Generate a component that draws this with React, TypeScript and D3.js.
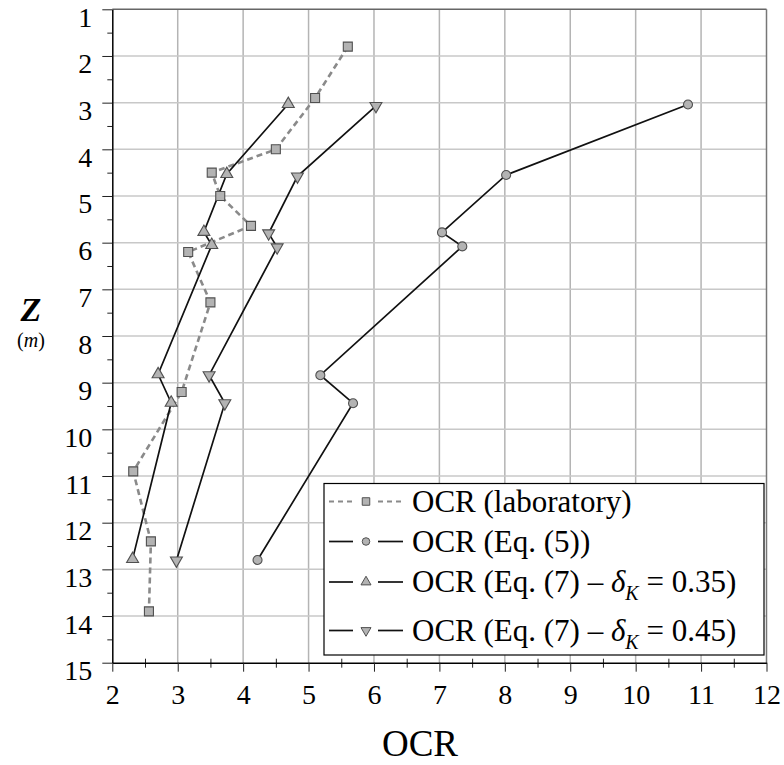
import React, { useEffect, useRef } from 'react';
import * as d3 from 'd3';

// values
const labOCR = [5.6, 5.1, 4.5, 3.52, 3.65, 4.12, 3.16, 3.5, 3.06, 2.32, 2.59, 2.56];
const labZ = [1.8, 2.9, 4.0, 4.5, 5.0, 5.64, 6.2, 7.28, 9.2, 10.9, 12.4, 13.9];

const eq5OCR = [10.8, 8.02, 7.04, 7.35, 5.18, 5.68, 4.22];
const eq5Z = [3.04, 4.55, 5.78, 6.08, 8.84, 9.44, 12.8];

const eq7aOCR = [4.69, 3.75, 3.4, 3.52, 2.7, 2.9, 2.31];
const eq7aZ = [3.03, 4.53, 5.77, 6.05, 8.82, 9.43, 12.78];

const eq7bOCR = [6.03, 4.83, 4.39, 4.52, 3.48, 3.72, 2.98];
const eq7bZ = [3.07, 4.58, 5.8, 6.1, 8.84, 9.44, 12.81];

const xTicks = [2, 3, 4, 5, 6, 7, 8, 9, 10, 11, 12];
const yTicks = [1, 2, 3, 4, 5, 6, 7, 8, 9, 10, 11, 12, 13, 14, 15];

const FONT = '"Liberation Serif", "Times New Roman", serif';

const App = () => {
  const svgRef = useRef(null);

  useEffect(() => {
    const svg = d3.select(svgRef.current);
    svg.selectAll('*').remove();

    const width = 784;
    const height = 765;
    const margin = { top: 9.3, right: 17.5, bottom: 102.3, left: 112.3 };

    const x = d3.scaleLinear().domain([2, 12]).range([margin.left, width - margin.right]);
    const y = d3.scaleLinear().domain([1, 15]).range([margin.top, height - margin.bottom]);

    const [x0, x1] = x.range();
    const [y0, y1] = y.range();

    // grid
    svg.append('g')
      .selectAll('line')
      .data(xTicks.slice(1, -1))
      .enter()
      .append('line')
      .attr('x1', d => x(d)).attr('x2', d => x(d))
      .attr('y1', y0).attr('y2', y1)
      .attr('stroke', '#b4b4b4')
      .attr('stroke-width', 1.5);

    svg.append('g')
      .selectAll('line')
      .data(yTicks.slice(1, -1))
      .enter()
      .append('line')
      .attr('x1', x0).attr('x2', x1)
      .attr('y1', d => y(d)).attr('y2', d => y(d))
      .attr('stroke', '#c8c8c8')
      .attr('stroke-width', 1.5);

    // top and right frame
    svg.append('line')
      .attr('x1', x0).attr('x2', x1).attr('y1', y0).attr('y2', y0)
      .attr('stroke', '#666').attr('stroke-width', 1.5);
    svg.append('line')
      .attr('x1', x1).attr('x2', x1).attr('y1', y0).attr('y2', y1)
      .attr('stroke', '#777').attr('stroke-width', 1.5);

    // y axis
    const yMinor = d3.range(1.5, 15, 1);
    svg.append('g')
      .attr('transform', `translate(${x0},0)`)
      .call(d3.axisLeft(y).tickValues(yMinor).tickSize(5).tickFormat(() => ''))
      .call(g => g.select('.domain').remove())
      .selectAll('line').attr('stroke', '#222');

    const yAxis = svg.append('g')
      .attr('transform', `translate(${x0},0)`)
      .call(d3.axisLeft(y).tickValues(yTicks).tickSize(10).tickSizeOuter(0).tickFormat(d3.format('d')));
    yAxis.select('.domain').attr('stroke', '#000').attr('stroke-width', 1.5);
    yAxis.selectAll('line').attr('stroke', '#222');
    yAxis.selectAll('text')
      .attr('x', -20)
      .attr('dy', 17)
      .style('font-family', FONT)
      .style('font-size', '28px')
      .attr('fill', '#000');

    // x axis
    const xMinor = d3.range(2.5, 12, 1);
    svg.append('g')
      .attr('transform', `translate(0,${y1 - 4})`)
      .call(d3.axisBottom(x).tickValues(xMinor).tickSize(9).tickFormat(() => ''))
      .call(g => g.select('.domain').remove())
      .selectAll('line').attr('stroke', '#222');

    const xAxis = svg.append('g')
      .attr('transform', `translate(0,${y1})`)
      .call(d3.axisBottom(x).tickValues(xTicks).tickSize(9).tickSizeOuter(0).tickFormat(d3.format('d')));
    xAxis.select('.domain').attr('stroke', '#000').attr('stroke-width', 1.5);
    xAxis.selectAll('line').attr('stroke', '#222');
    xAxis.selectAll('text')
      .attr('y', 41)
      .attr('dy', 0)
      .style('font-family', FONT)
      .style('font-size', '28px')
      .attr('fill', '#000');

    // axis titles
    svg.append('text')
      .attr('x', 420)
      .attr('y', 756)
      .attr('text-anchor', 'middle')
      .style('font-family', FONT)
      .style('font-size', '37px')
      .text('OCR');

    svg.append('text')
      .attr('x', 31)
      .attr('y', 321)
      .attr('text-anchor', 'middle')
      .style('font-family', FONT)
      .style('font-size', '34px')
      .style('font-style', 'italic')
      .style('font-weight', 'bold')
      .text('Z');

    const unit = svg.append('text')
      .attr('x', 31)
      .attr('y', 347)
      .attr('text-anchor', 'middle')
      .style('font-family', FONT)
      .style('font-size', '20px');
    unit.append('tspan').text('(');
    unit.append('tspan').style('font-style', 'italic').text('m');
    unit.append('tspan').text(')');

    // series
    const series = [
      { name: 'lab', xs: labOCR, zs: labZ, symbol: d3.symbolSquare, size: 81, rotate: 0, dashed: true },
      { name: 'eq5', xs: eq5OCR, zs: eq5Z, symbol: d3.symbolCircle, size: 64, rotate: 0, dashed: false },
      { name: 'eq7a', xs: eq7aOCR, zs: eq7aZ, symbol: d3.symbolTriangle, size: 62, rotate: 0, dashed: false },
      { name: 'eq7b', xs: eq7bOCR, zs: eq7bZ, symbol: d3.symbolTriangle, size: 62, rotate: 180, dashed: false },
    ];

    const line = d3.line<number[]>().x(d => x(d[0])).y(d => y(d[1]));

    series.forEach(s => {
      const pts = s.xs.map((v, i) => [v, s.zs[i]]);
      svg.append('path')
        .datum(pts)
        .attr('d', line)
        .attr('fill', 'none')
        .attr('stroke', s.dashed ? '#8a8a8a' : '#111')
        .attr('stroke-width', s.dashed ? 2.6 : 1.7)
        .attr('stroke-dasharray', s.dashed ? '6,4' : null);
    });

    series.forEach(s => {
      const pts = s.xs.map((v, i) => [v, s.zs[i]]);
      svg.append('g')
        .selectAll('path')
        .data(pts)
        .enter()
        .append('path')
        .attr('d', d3.symbol().type(s.symbol).size(s.size))
        .attr('transform', d => `translate(${x(d[0])},${y(d[1])}) rotate(${s.rotate})`)
        .attr('fill', '#b3b3b3')
        .attr('stroke', '#505050')
        .attr('stroke-width', 1.1);
    });

    // legend
    const lg = svg.append('g');
    lg.append('rect')
      .attr('x', 324).attr('y', 483.5)
      .attr('width', 440).attr('height', 171.5)
      .attr('fill', '#fff')
      .attr('stroke', '#000')
      .attr('stroke-width', 1.2);

    const rows = [
      { s: series[0], y: 501.5, label: ['OCR (laboratory)'] },
      { s: series[1], y: 541.5, label: ['OCR (Eq. (5))'] },
      { s: series[2], y: 582, label: ['OCR (Eq. (7) – ', 'δ', 'K', ' = 0.35)'] },
      { s: series[3], y: 630.5, label: ['OCR (Eq. (7) – ', 'δ', 'K', ' = 0.45)'] },
    ];

    rows.forEach(r => {
      [[329, 353], [378, 403]].forEach(([a, b]) => {
        lg.append('line')
          .attr('x1', a).attr('x2', b)
          .attr('y1', r.y).attr('y2', r.y)
          .attr('stroke', r.s.dashed ? '#8a8a8a' : '#111')
          .attr('stroke-width', r.s.dashed ? 2.2 : 1.7)
          .attr('stroke-dasharray', r.s.dashed ? '5,4' : null);
      });
      lg.append('path')
        .attr('d', d3.symbol().type(r.s.symbol).size(r.s.size * 0.7))
        .attr('transform', `translate(366,${r.y}) rotate(${r.s.rotate})`)
        .attr('fill', '#b3b3b3')
        .attr('stroke', '#505050')
        .attr('stroke-width', 1);

      const t = lg.append('text')
        .attr('x', 412)
        .attr('y', r.y + 10)
        .style('font-family', FONT)
        .style('font-size', '31px');
      if (r.label.length === 1) {
        t.text(r.label[0]);
      } else {
        t.append('tspan').text(r.label[0]);
        t.append('tspan').style('font-style', 'italic').text(r.label[1]);
        t.append('tspan').style('font-style', 'italic').style('font-size', '20px').attr('dy', 8).text(r.label[2]);
        t.append('tspan').attr('dy', -8).text(r.label[3]);
      }
    });
  }, []);

  return (
    <svg
      ref={svgRef}
      width={784}
      height={765}
      style={{ position: 'absolute', left: 0, top: 0, background: '#fff' }}
    />
  );
};

export default App;
